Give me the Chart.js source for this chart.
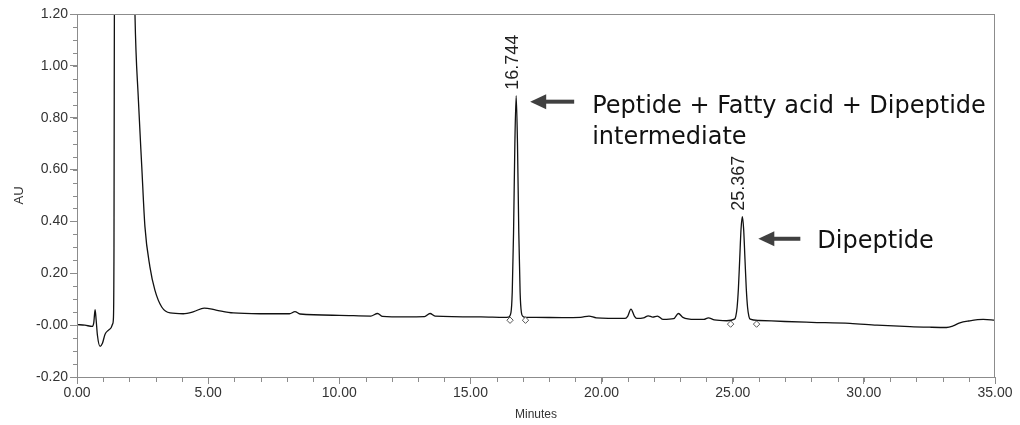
<!DOCTYPE html>
<html>
<head>
<meta charset="utf-8">
<script src="https://cdn.jsdelivr.net/npm/chart.js@4"></script>
<style>
    html, body { margin: 0; padding: 0; background: #fff; }
    #wrap { width: 1020px; height: 425px; }
</style>
</head>
<body>
<div id="wrap"><canvas id="chromChart"></canvas></div>
<script>
// retention time (min) and detector response (AU)
const times = [
    0.00, 0.30, 0.58, 0.64, 0.69, 0.73, 0.78, 0.88, 0.97, 1.07, 1.19, 1.30, 1.36, 1.39,
    1.41, 1.43, 1.50, 1.80, 2.10, 2.21, 2.34, 2.47, 2.59, 2.78, 2.97, 3.23, 3.55, 4.05,
    4.45, 4.85, 5.30, 5.96, 6.98, 8.10, 8.31, 8.50, 10.00, 11.20, 11.46, 11.65, 12.50,
    13.25, 13.46, 13.65, 15.40, 16.30, 16.45, 16.544, 16.594, 16.644, 16.694, 16.744,
    16.794, 16.844, 16.894, 16.944, 17.00, 17.10, 17.50, 18.50, 19.20, 19.52, 19.80,
    20.90, 21.00, 21.12, 21.25, 21.34, 21.60, 21.78, 21.95, 22.13, 22.35, 22.75, 22.93,
    23.10, 23.56, 23.90, 24.07, 24.30, 24.77, 25.067, 25.117, 25.167, 25.217, 25.267,
    25.317, 25.367, 25.417, 25.467, 25.517, 25.567, 25.617, 25.667, 26.00, 27.00, 28.00,
    29.47, 30.50, 31.76, 32.50, 33.15, 33.40, 33.66, 34.00, 34.55, 35.00
];
const absorbance = [
    0.002, 0.000, -0.005, 0.010, 0.060, 0.020, -0.040, -0.082, -0.070, -0.035, -0.020, -0.010, 0.005, 0.030,
    0.300, 1.500, 2.600, 3.200, 2.000, 1.200, 0.870, 0.610, 0.380, 0.225, 0.135, 0.070, 0.047, 0.044,
    0.052, 0.066, 0.058, 0.047, 0.044, 0.044, 0.052, 0.043, 0.038, 0.035, 0.045, 0.034, 0.032,
    0.033, 0.045, 0.035, 0.032, 0.030, 0.031, 0.048, 0.127, 0.356, 0.700, 0.885,
    0.700, 0.356, 0.127, 0.048, 0.034, 0.030, 0.030, 0.029, 0.030, 0.035, 0.028,
    0.026, 0.035, 0.062, 0.035, 0.026, 0.028, 0.036, 0.031, 0.035, 0.022, 0.025, 0.045,
    0.030, 0.022, 0.022, 0.028, 0.020, 0.017, 0.023, 0.034, 0.068, 0.141, 0.255,
    0.370, 0.418, 0.370, 0.255, 0.141, 0.068, 0.034, 0.023, 0.018, 0.014, 0.011,
    0.007, 0.000, -0.006, -0.008, -0.009, -0.003, 0.009, 0.016, 0.022, 0.019
];

// integration start/end marks
const markTimes = [16.51, 17.10, 24.92, 25.91];
const markValues = [0.019, 0.019, 0.004, 0.004];

// labelled peaks
const peakTimes = [16.744, 25.367];
const peakHeights = [0.885, 0.418];
const peakLabels = ['16.744', '25.367'];
const peakNotes = [
    ['Peptide + Fatty acid + Dipeptide', 'intermediate'],
    ['Dipeptide']
];

const xTickStep = 5;
const yTickStep = 0.2;

const traceData = times.map((t, i) => ({ x: t, y: absorbance[i] }));
const markData = markTimes.map((t, i) => ({ x: t, y: markValues[i] }));

const axisGray = '#8c8c8c';
const tickFont = { family: '"Liberation Sans", Arial, sans-serif', size: 14 };

function drawArrow(ctx, tipX, tipY, tailX) {
    ctx.fillStyle = '#404040';
    ctx.fillRect(tipX + 13, tipY - 2, tailX - tipX - 13, 4);
    ctx.beginPath();
    ctx.moveTo(tipX, tipY);
    ctx.lineTo(tipX + 16, tipY - 7.5);
    ctx.lineTo(tipX + 16, tipY + 7.5);
    ctx.closePath();
    ctx.fill();
}

const decorPlugin = {
    id: 'chromDecor',
    afterDraw(chart) {
        const { ctx, chartArea: a, scales: { x, y } } = chart;
        ctx.save();

        // frame around plot
        ctx.strokeStyle = axisGray;
        ctx.lineWidth = 1;
        ctx.strokeRect(a.left + 0.5, a.top + 0.5, a.right - a.left - 1, a.bottom - a.top);

        // minor ticks
        ctx.beginPath();
        for (let t = 0; t <= 35; t += 1) {
            const px = Math.round(x.getPixelForValue(t)) + 0.5;
            ctx.moveTo(px, a.bottom);
            ctx.lineTo(px, a.bottom + 5);
        }
        for (let k = -4; k <= 24; k++) {
            const py = Math.round(y.getPixelForValue(k * 0.05)) + 0.5;
            ctx.moveTo(a.left, py);
            ctx.lineTo(a.left - 4, py);
        }
        ctx.stroke();

        // rotated retention times over the peaks
        ctx.fillStyle = '#222';
        ctx.font = '18px "Liberation Sans", Arial, sans-serif';
        ctx.textAlign = 'left';
        ctx.textBaseline = 'middle';
        peakTimes.forEach((t, i) => {
            const px = x.getPixelForValue(t);
            const py = y.getPixelForValue(peakHeights[i]);
            ctx.save();
            ctx.translate(px - 3, py - 6);
            ctx.rotate(-Math.PI / 2);
            ctx.fillText(peakLabels[i], 0, 0);
            ctx.restore();
        });

        // arrows and notes
        ctx.font = '24px "DejaVu Sans", "Noto Sans", sans-serif';
        ctx.textBaseline = 'alphabetic';
        const p1x = x.getPixelForValue(peakTimes[0]);
        const p1y = y.getPixelForValue(peakHeights[0]);
        drawArrow(ctx, p1x + 14, p1y + 6, p1x + 58);
        ctx.fillStyle = '#111';
        ctx.fillText(peakNotes[0][0], p1x + 76, p1y + 17);
        ctx.fillText(peakNotes[0][1], p1x + 76, p1y + 48);

        const p2x = x.getPixelForValue(peakTimes[1]);
        const p2y = y.getPixelForValue(peakHeights[1]);
        drawArrow(ctx, p2x + 16, p2y + 22, p2x + 58);
        ctx.fillStyle = '#111';
        ctx.fillText(peakNotes[1][0], p2x + 75, p2y + 31);

        ctx.restore();
    }
};

new Chart(document.getElementById('chromChart'), {
    type: 'scatter',
    data: {
        datasets: [
            {
                data: traceData,
                showLine: true,
                borderColor: '#111',
                borderWidth: 1.3,
                pointRadius: 0,
                cubicInterpolationMode: 'monotone',
                order: 2
            },
            {
                data: markData,
                showLine: false,
                pointStyle: 'rectRot',
                pointRadius: 3.2,
                borderColor: '#555',
                borderWidth: 1,
                backgroundColor: '#fff',
                order: 1
            }
        ]
    },
    options: {
        responsive: true,
        maintainAspectRatio: false,
        animation: false,
        layout: { padding: { top: 14, right: 25, left: 0, bottom: 0 } },
        plugins: {
            legend: { display: false },
            tooltip: { enabled: false }
        },
        scales: {
            x: {
                type: 'linear',
                min: 0,
                max: 35,
                afterFit: s => { s.height = 48; },
                ticks: {
                    stepSize: xTickStep,
                    color: '#333',
                    font: tickFont,
                    padding: 1,
                    maxRotation: 0,
                    callback: v => v.toFixed(2)
                },
                grid: { drawOnChartArea: false, tickLength: 7, tickColor: axisGray },
                border: { display: true, color: axisGray },
                title: {
                    display: true,
                    text: 'Minutes',
                    color: '#333',
                    font: { family: '"Liberation Sans", Arial, sans-serif', size: 12 },
                    padding: { top: 0, bottom: 3 }
                }
            },
            y: {
                min: -0.2,
                max: 1.2,
                afterFit: s => { s.width = 77; },
                ticks: {
                    stepSize: yTickStep,
                    color: '#333',
                    font: tickFont,
                    padding: 2,
                    callback: v => v.toFixed(2)
                },
                grid: { drawOnChartArea: false, tickLength: 7, tickColor: axisGray },
                border: { display: true, color: axisGray },
                title: {
                    display: true,
                    text: 'AU',
                    color: '#333',
                    font: { family: '"Liberation Sans", Arial, sans-serif', size: 13 },
                    padding: { top: 12, bottom: 0 }
                }
            }
        }
    },
    plugins: [decorPlugin]
});
</script>
</body>
</html>
